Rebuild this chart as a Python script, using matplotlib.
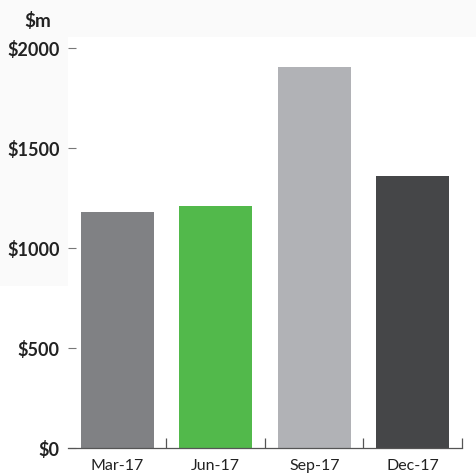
import numpy as np
import matplotlib
matplotlib.use("Agg")
import matplotlib.pyplot as plt
from matplotlib.patches import Rectangle

# data ($m)
quarters = ['Mar-17', 'Jun-17', 'Sep-17', 'Dec-17']
values = [1180, 1212, 1907, 1362]
bar_colors = ['#808184', '#52b94b', '#b1b2b6', '#454648']
yticks = [0, 500, 1000, 1500, 2000]
ytick_labels = ['$0', '$500', '$1000', '$1500', '$2000']

plt.rcParams['font.family'] = ['Lato', 'DejaVu Sans']

fig = plt.figure(figsize=(4.77, 4.73), dpi=100)
fig.patch.set_facecolor('white')

# faint grey bands from the source screenshot
fig.add_artist(Rectangle((0, 1 - 37 / 473), 1, 37 / 473, transform=fig.transFigure,
                         facecolor='#fafafa', edgecolor='none', zorder=-10))
fig.add_artist(Rectangle((0, 1 - 286 / 473), 68 / 477, (286 - 37) / 473,
                         transform=fig.transFigure,
                         facecolor='#fafafa', edgecolor='none', zorder=-10))

ax = fig.add_axes([68 / 477, 1 - 448 / 473, (462 - 68) / 477, 400 / 473])
ax.set_facecolor('none')

x = np.arange(len(quarters))
ax.bar(x, values, width=0.74, color=bar_colors, edgecolor='none', zorder=2)

ax.set_xlim(-0.5, 3.5)
ax.set_ylim(0, 2000)

for s in ['top', 'right', 'left']:
    ax.spines[s].set_visible(False)
ax.spines['bottom'].set_color('#555555')
ax.spines['bottom'].set_linewidth(0.9)

ax.set_yticks(yticks)
ax.set_yticklabels(ytick_labels, fontsize=13, fontweight='bold', color='#222222')
ax.tick_params(axis='y', direction='in', length=6, width=0.8, color='#777777', pad=6)

ax.set_xticks(x)
ax.set_xticklabels(quarters, fontsize=11.5, color='#222222')
ax.tick_params(axis='x', which='major', length=0, pad=8)
ax.set_xticks(list(x + 0.5), minor=True)
ax.tick_params(axis='x', which='minor', direction='in', length=7, width=0.9, color='#555555')

fig.text(38 / 477, 1 - 21 / 473, '$m', fontsize=13.5, fontweight='bold', color='#222222',
         ha='center', va='center')

fig.savefig('out.png', dpi=100)
